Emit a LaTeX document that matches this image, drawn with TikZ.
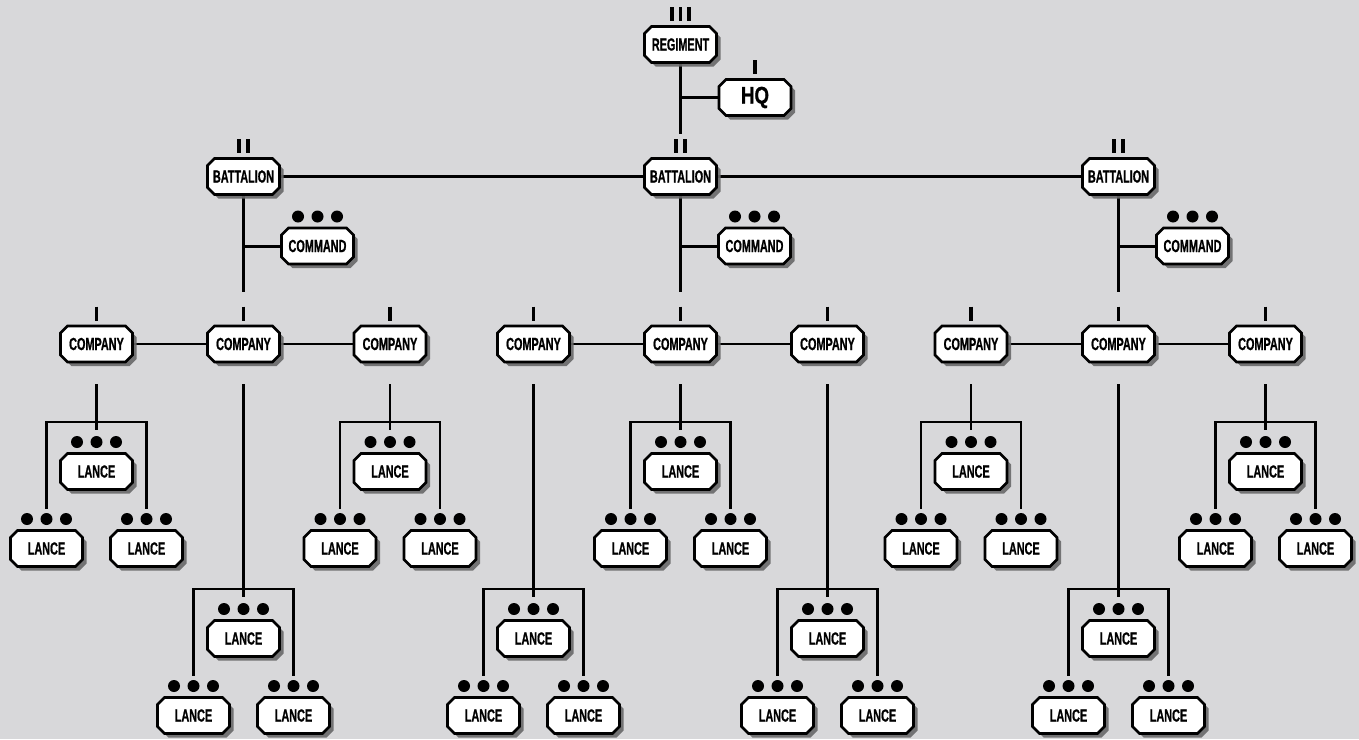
\documentclass[tikz,border=0pt]{standalone}
\usepackage{fontspec}
\newfontfamily\labfont{Liberation Sans}[FakeStretch=0.62,FakeBold=0.8]
\newfontfamily\hqfont{Liberation Sans}[FakeStretch=0.78,FakeBold=0.8]
\usetikzlibrary{shapes.misc,shadows,calc}
\pgfdeclarelayer{back}
\pgfdeclarelayer{wires}
\pgfsetlayers{back,wires,main}
\definecolor{paper}{RGB}{216,216,218}
\definecolor{shade}{RGB}{105,105,105}
\tikzset{
  unitbox/.style={chamfered rectangle, chamfered rectangle xsep=3.5pt,
    chamfered rectangle ysep=3.5pt, draw=black, line width=2.6pt, fill=white,
    minimum width=72pt, minimum height=36pt, inner sep=0pt,
    font=\labfont\bfseries\fontsize{17.5}{18}\selectfont,
    drop shadow={shadow xshift=4pt, shadow yshift=-4pt, fill=shade, opacity=.9}},
  bigbox/.style={unitbox, font=\hqfont\bfseries\fontsize{24}{26}\selectfont},
  major/.style={line width=3pt},
  wire/.style={line width=2.6pt},
  thin/.style={line width=1.9pt},
  echelon/.style={line width=3.6pt},
}
\newcommand\unitdots[1]{%
  \foreach \dx in {-19.5,0,19.5}{\fill ($(#1.center)+(\dx,-29.5)$) circle[radius=6pt];}}
\newcommand\echelon[2]{%
  \foreach \dx in {#2}{\draw[echelon] ($(#1.center)+(\dx,-37.5)$) -- ++(0,14);}}
\newcommand\lancegroup[3]{%
  \node[unitbox] (#1c) at (#2,#3+49.5) {LANCE};
  \node[unitbox] (#1l) at (#2-50,#3+126.5) {LANCE};
  \node[unitbox] (#1r) at (#2+50,#3+126.5) {LANCE};
  \unitdots{#1c}\unitdots{#1l}\unitdots{#1r}
  \coordinate (#1k) at (#2,#3);
  \coordinate (#1s) at (#2,#3+8);
  \coordinate (#1lf) at (#2-50,#3+86.5);
  \coordinate (#1rf) at (#2+50,#3+86.5);
  \begin{pgfonlayer}{wires}
    \draw[wire] (#1lf) |- (#1k) -| (#1rf);
  \end{pgfonlayer}}
\begin{document}
\begin{tikzpicture}[x=1pt,y=-1pt]
\begin{pgfonlayer}{back}
  \fill[paper] (0,0) rectangle (1359,739);
\end{pgfonlayer}
\useasboundingbox (0,0) rectangle (1359,739);

% regiment and HQ
\node[unitbox] (reg) at (680.5,44.5) {REGIMENT};
\echelon{reg}{-8.7,0,8.7}
\node[bigbox] (hq) at (755,97.5) {HQ};
\echelon{hq}{0}

% battalions and commands
\foreach \b/\x in {1/243.5,2/680.5,3/1118.5}{
  \node[unitbox] (bat\b) at (\x,176.5) {BATTALION};
  \echelon{bat\b}{-4.5,4.5}
  \node[unitbox] (cmd\b) at (\x+74,246) {COMMAND};
  \unitdots{cmd\b}
  \coordinate (bat\b end) at (\x,292);
}
\coordinate (bat2top) at (680.5,134);

% companies
\foreach \c/\x/\g in {1/96.5/422,2/243.5/589,3/390/422,4/533.5/589,5/680.5/422,
                      6/827.5/589,7/971/422,8/1118.5/589,9/1265.5/422}{
  \node[unitbox] (co\c) at (\x,344) {COMPANY};
  \echelon{co\c}{0}
  \coordinate (co\c foot) at (\x,384);
  \lancegroup{g\c}{\x}{\g}
  \begin{pgfonlayer}{wires}
    \draw[wire] (co\c foot) -- (g\c s);
  \end{pgfonlayer}
}

\begin{pgfonlayer}{wires}
  \draw[major] (reg.south) -- (bat2top);
  \draw[major] (hq.west) -- (hq.west -| reg.south);
  \draw[major] (bat1.east) -- (bat3.west);
  \foreach \b in {1,2,3}{
    \draw[major] (bat\b.south) -- (bat\b end);
    \draw[major] (cmd\b.west) -- (cmd\b.west -| bat\b.south);
  }
  \foreach \a/\b in {1/2,2/3,4/5,5/6,7/8,8/9}{
    \draw[thin] (co\a.east) -- (co\b.west);
  }
\end{pgfonlayer}
\end{tikzpicture}
\end{document}
